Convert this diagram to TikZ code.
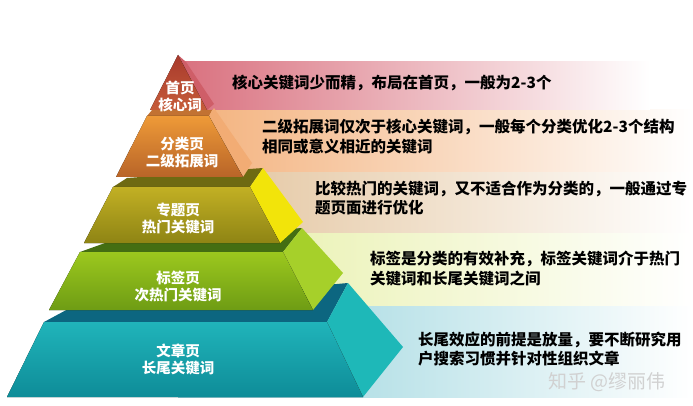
\documentclass[tikz,border=0pt]{standalone}
\usepackage{fontspec}
\newfontfamily\cjk{Noto Sans CJK SC}
\usepackage{xcolor}
\usepackage{tikz}
\usetikzlibrary{positioning}

\definecolor{bandA}{HTML}{D9707E}
\definecolor{bandB}{HTML}{F3B07A}
\definecolor{bandC}{HTML}{E2C29A}
\definecolor{bandD}{HTML}{E6EFA4}
\definecolor{bandE}{HTML}{8FD0DA}
\definecolor{redA}{HTML}{A83A2C}
\definecolor{redB}{HTML}{C65C3A}
\definecolor{redS}{HTML}{CF5E68}
\definecolor{orgA}{HTML}{EE9A38}
\definecolor{orgB}{HTML}{B86428}
\definecolor{orgT}{HTML}{C27232}
\definecolor{orgS}{HTML}{F2AC74}
\definecolor{oliA}{HTML}{C2B024}
\definecolor{oliB}{HTML}{8E8414}
\definecolor{oliT}{HTML}{6E6A12}
\definecolor{oliS}{HTML}{F2E40A}
\definecolor{grnA}{HTML}{9CC81E}
\definecolor{grnB}{HTML}{6E9C14}
\definecolor{grnT}{HTML}{446E12}
\definecolor{grnS}{HTML}{A6D02A}
\definecolor{tealA}{HTML}{20B4BA}
\definecolor{tealB}{HTML}{0E8C98}
\definecolor{tealT}{HTML}{0C6680}
\definecolor{tealS}{HTML}{1EB8B8}

\begin{document}
\begin{tikzpicture}
                \tikzset{x={(1pt, 0pt)}, y={(0pt, -1pt)}}
                \tikzset{desc/.style={anchor=west, align=left, inner sep=0pt, text=black,
                                      font=\cjk\bfseries\fontsize{15.5}{19.5}\selectfont},
                         tierlbl/.style={align=center, inner sep=0pt, text=white,
                                         font=\cjk\bfseries\fontsize{14.5}{17}\selectfont},
                         band/.style={left color=#1, middle color=#1!60, right color=white}}
                \useasboundingbox[fill=white] (0, 0) rectangle (693, 406);

                \fill[band=bandE] (178, 305) rectangle (693, 397);
                \fill[band=bandD] (178, 232) rectangle (693, 305);
                \fill[band=bandC] (178, 172) rectangle (693, 232);
                \fill[band=bandB] (178, 110) rectangle (693, 172);
                \fill[band=bandA] (178,  62) rectangle (650, 110);

                \fill[tealT] ( 44, 322) -- ( 70, 308) -- (348, 283) -- (327, 322) -- cycle;
                \fill[tealS] (327, 322) -- (348, 283) -- (403, 347) -- (363, 397) -- cycle;
                \fill[top color=tealA, bottom color=tealB] ( 44, 322) -- (327, 322) -- (363, 397) -- (  7, 397) -- cycle;

                \fill[grnT] ( 80, 252) -- (105, 243) -- (302, 228) -- (283, 252) -- cycle;
                \fill[grnS] (283, 252) -- (302, 228) -- (343, 273) -- (313, 310) -- cycle;
                \fill[top color=grnA, bottom color=grnB] ( 80, 252) -- (283, 252) -- (313, 310) -- ( 49, 310) -- cycle;

                \fill[oliT] (113, 187) -- (127, 178) -- (263, 168) -- (250, 187) -- cycle;
                \fill[oliS] (250, 187) -- (263, 168) -- (303, 222) -- (280, 243) -- cycle;
                \fill[top color=oliA, bottom color=oliB] (113, 187) -- (250, 187) -- (280, 243) -- ( 84, 243) -- cycle;

                \fill[orgT] (147, 116) -- (152, 110) -- (212, 110) -- (209, 116) -- cycle;
                \fill[orgS] (209, 116) -- (214, 108) -- (252, 163) -- (243, 177) -- cycle;
                \fill[top color=orgA, bottom color=orgB] (147, 116) -- (209, 116) -- (243, 177) -- (116, 177) -- cycle;

                \fill[redS] (178, 55) -- (186, 62) -- (214, 104) -- (207, 110) -- cycle;
                \fill[top color=redA, bottom color=redB] (178, 55) -- (207, 110) -- (150, 110) -- cycle;

                \node[tierlbl] (lblHome)  at (180,  96) {首页\\核心词};
                \node[tierlbl] (lblCat)   at (182, 153) {分类页\\二级拓展词};
                \node[tierlbl] (lblTopic) at (178, 219) {专题页\\热门关键词};
                \node[tierlbl] (lblTag)   at (178, 287) {标签页\\次热门关键词};
                \node[tierlbl] (lblArt)   at (178, 359) {文章页\\长尾关键词};

                \node[desc] (descHome)  at (232,  83)   {核心关键词少而精，布局在首页，一般为2-3个};
                \node[desc] (descCat)   at (262, 136.5) {二级拓展词仅次于核心关键词，一般每个分类优化2-3个结构\\相同或意义相近的关键词};
                \node[desc] (descTopic) at (315, 198)   {比较热门的关键词，又不适合作为分类的，一般通过专\\题页面进行优化};
                \node[desc] (descTag)   at (370, 268.5) {标签是分类的有效补充，标签关键词介于热门\\关键词和长尾关键词之间};
                \node[desc] (descArt)   at (418, 349)   {长尾效应的前提是放量，要不断研究用\\户搜索习惯并针对性组织文章};

                \node[anchor=west, inner sep=0pt, text=white!82!black,
                      font=\cjk\fontsize{19}{22}\selectfont] (wm) at (548, 382) {知乎 @缪丽伟};
            \end{tikzpicture}
\end{document}
